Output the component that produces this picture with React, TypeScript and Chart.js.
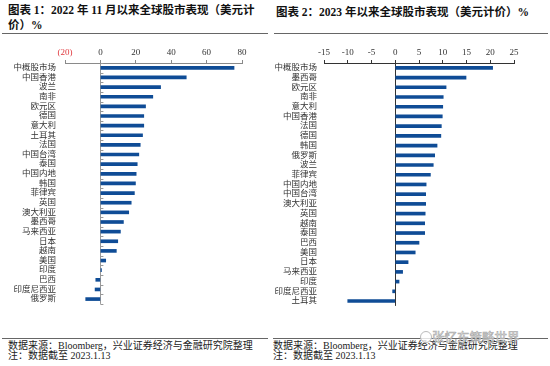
import React, { useEffect, useRef } from 'react';
import { Chart, registerables } from 'chart.js';
Chart.register(...registerables);

const leftCategories = ['中概股市场', '中国香港', '波兰', '南非', '欧元区', '德国', '意大利', '土耳其', '法国', '中国台湾', '泰国', '中国内地', '韩国', '菲律宾', '英国', '澳大利亚', '墨西哥', '马来西亚', '日本', '越南', '美国', '印度', '巴西', '印度尼西亚', '俄罗斯'];
const leftValues = [75.5, 48.5, 34, 29.6, 25.5, 24.5, 24.5, 23.8, 22.5, 21.7, 20.8, 20.2, 19.8, 19.2, 17.4, 16, 13, 11.3, 9.8, 9, 3, 0.6, -2.6, -3, -8.3];
const leftTicks = [-20, 0, 20, 40, 60, 80];

const rightCategories = ['中概股市场', '墨西哥', '欧元区', '南非', '意大利', '中国香港', '法国', '德国', '韩国', '俄罗斯', '波兰', '菲律宾', '中国内地', '中国台湾', '澳大利亚', '英国', '越南', '泰国', '巴西', '美国', '日本', '马来西亚', '印度', '印度尼西亚', '土耳其'];
const rightValues = [20.5, 14.9, 10.7, 10.1, 10.0, 9.9, 9.7, 9.6, 8.8, 8.3, 8.0, 7.4, 6.5, 6.4, 6.4, 6.3, 6.2, 6.2, 5.0, 4.2, 2.7, 1.55, 0.8, -0.55, -10.0];
const rightTicks = [-15, -10, -5, 0, 5, 10, 15, 20, 25];

const FONT = '"Liberation Serif", "Noto Sans CJK SC", serif';
const BAR_COLOR = '#0f4c96';

const minorTicksPlugin = {
  id: 'minorTicks',
  afterDraw(chart: any, _args: any, o: any) {
    if (!o || !o.enabled) return;
    const xs = chart.scales.x;
    const ys = chart.scales.y;
    const x0 = xs.getPixelForValue(0);
    const n = chart.data.labels.length;
    const ctx = chart.ctx;
    ctx.save();
    ctx.strokeStyle = o.color;
    ctx.lineWidth = 1;
    ctx.beginPath();
    for (let i = 0; i <= n; i++) {
      const py = Math.round(ys.getPixelForValue(i - 0.5)) + 0.5;
      ctx.moveTo(x0, py);
      ctx.lineTo(x0 + 3, py);
    }
    ctx.stroke();
    ctx.restore();
  },
};

function buildChart(
  canvas: HTMLCanvasElement,
  cats: string[],
  vals: number[],
  ticks: number[],
  cfg: { yWidth: number; padRight: number; padBottom: number; axisColor: string; zeroColor: string; negColor: string; paren: boolean; minor: boolean; labelPad: number }
) {
  return new Chart(canvas, {
    type: 'bar',
    data: {
      labels: cats,
      datasets: [
        {
          data: vals,
          backgroundColor: BAR_COLOR,
          borderWidth: 0,
          barThickness: 3,
        },
      ],
    },
    plugins: [minorTicksPlugin],
    options: {
      indexAxis: 'y',
      responsive: false,
      animation: false,
      devicePixelRatio: 1,
      layout: { padding: { left: 0, top: 0, right: cfg.padRight, bottom: cfg.padBottom } },
      plugins: {
        legend: { display: false },
        tooltip: { enabled: false },
        minorTicks: { enabled: cfg.minor, color: '#999' },
      } as any,
      scales: {
        x: {
          position: 'top',
          min: ticks[0],
          max: ticks[ticks.length - 1],
          afterBuildTicks: (scale: any) => {
            scale.ticks = ticks.map((v) => ({ value: v }));
          },
          afterFit: (scale: any) => {
            scale.height = 23;
          },
          grid: {
            drawOnChartArea: true,
            drawTicks: true,
            tickLength: 3,
            tickColor: cfg.axisColor,
            color: (ctx: any) => (ctx.tick && ctx.tick.value === 0 ? cfg.zeroColor : 'rgba(0,0,0,0)'),
            lineWidth: 1,
          },
          border: { display: true, color: cfg.axisColor, width: 1 },
          ticks: {
            padding: 2,
            font: { family: FONT, size: 9 },
            color: (ctx: any) => (ctx.tick && ctx.tick.value < 0 ? cfg.negColor : '#333'),
            callback: (v: any) => (cfg.paren && v < 0 ? `(${-v})` : `${v}`),
          },
        },
        y: {
          afterFit: (scale: any) => {
            scale.width = cfg.yWidth;
          },
          grid: { display: false, drawTicks: false },
          border: { display: false },
          ticks: {
            padding: cfg.labelPad,
            font: { family: FONT, size: 8.5 },
            color: '#333',
            autoSkip: false,
          },
        },
      },
    } as any,
  });
}

function useChart(ref: React.RefObject<HTMLCanvasElement>, make: (c: HTMLCanvasElement) => Chart) {
  useEffect(() => {
    if (!ref.current) return;
    const ch = make(ref.current);
    return () => ch.destroy();
  }, []);
}

export default function App() {
  const leftRef = useRef<HTMLCanvasElement>(null);
  const rightRef = useRef<HTMLCanvasElement>(null);

  useChart(leftRef as any, (c) =>
    buildChart(c, leftCategories, leftValues, leftTicks, {
      yWidth: 65,
      padRight: 28,
      padBottom: 7,
      axisColor: '#8a8a8a',
      zeroColor: '#9a9a9a',
      negColor: '#e0393e',
      paren: true,
      minor: true,
      labelPad: 9,
    })
  );
  useChart(rightRef as any, (c) =>
    buildChart(c, rightCategories, rightValues, rightTicks, {
      yWidth: 54,
      padRight: 36,
      padBottom: 5,
      axisColor: '#333',
      zeroColor: '#333',
      negColor: '#333',
      paren: false,
      minor: false,
      labelPad: 7,
    })
  );

  const abs = (s: React.CSSProperties): React.CSSProperties => ({ position: 'absolute', ...s });
  const titleStyle: React.CSSProperties = {
    fontFamily: FONT,
    fontWeight: 'bold',
    fontSize: '11.5px',
    lineHeight: '15px',
    color: '#111',
    whiteSpace: 'nowrap',
  };
  const footStyle: React.CSSProperties = {
    fontFamily: FONT,
    fontSize: '10px',
    lineHeight: '10.5px',
    color: '#222',
    whiteSpace: 'nowrap',
  };

  return (
    <div style={{ position: 'fixed', left: 0, top: 0, width: 550, height: 366, background: '#fff', overflow: 'hidden' }}>
      <div style={abs({ left: 8, top: 3, ...titleStyle })}>
        图表 1：2022 年 11 月以来全球股市表现（美元计
        <br />
        价）%
      </div>
      <div style={abs({ left: 276, top: 5, ...titleStyle })}>图表 2：2023 年以来全球股市表现（美元计价）%</div>
      <div style={abs({ left: 2, top: 33, width: 266, height: 0, borderTop: '1px solid #666' })} />
      <div style={abs({ left: 274, top: 33, width: 274, height: 0, borderTop: '1px solid #666' })} />

      <canvas ref={leftRef} width={270} height={278} style={abs({ left: 0, top: 40, width: 270, height: 278 })} />
      <canvas ref={rightRef} width={280} height={278} style={abs({ left: 270, top: 40, width: 280, height: 278 })} />

      <div style={abs({ left: 2, top: 338, width: 266, height: 0, borderTop: '1px solid #666' })} />
      <div style={abs({ left: 273, top: 338, width: 275, height: 0, borderTop: '1px solid #666' })} />
      <div style={abs({ left: 8, top: 340.5, ...footStyle })}>
        数据来源：Bloomberg，兴业证券经济与金融研究院整理
        <br />
        注：数据截至 2023.1.13
      </div>
      <div style={abs({ left: 273, top: 340.5, ...footStyle })}>
        数据来源：Bloomberg，兴业证券经济与金融研究院整理
        <br />
        注：数据截至 2023.1.13
      </div>
      <div
        style={abs({
          left: 420,
          top: 331,
          width: 10,
          height: 10,
          borderRadius: '50%',
          border: '1px solid #bbb',
          background: 'rgba(255,255,255,0.8)',
        })}
      />
      <div
        style={abs({
          left: 432,
          top: 328,
          fontFamily: '"Noto Sans CJK SC", sans-serif',
          fontSize: '12.5px',
          lineHeight: '18px',
          color: 'rgba(255,255,255,0.85)',
          WebkitTextStroke: '0.6px #aaa',
          whiteSpace: 'nowrap',
        } as any)}
      >
        张忆东策略世界
      </div>
    </div>
  );
}
